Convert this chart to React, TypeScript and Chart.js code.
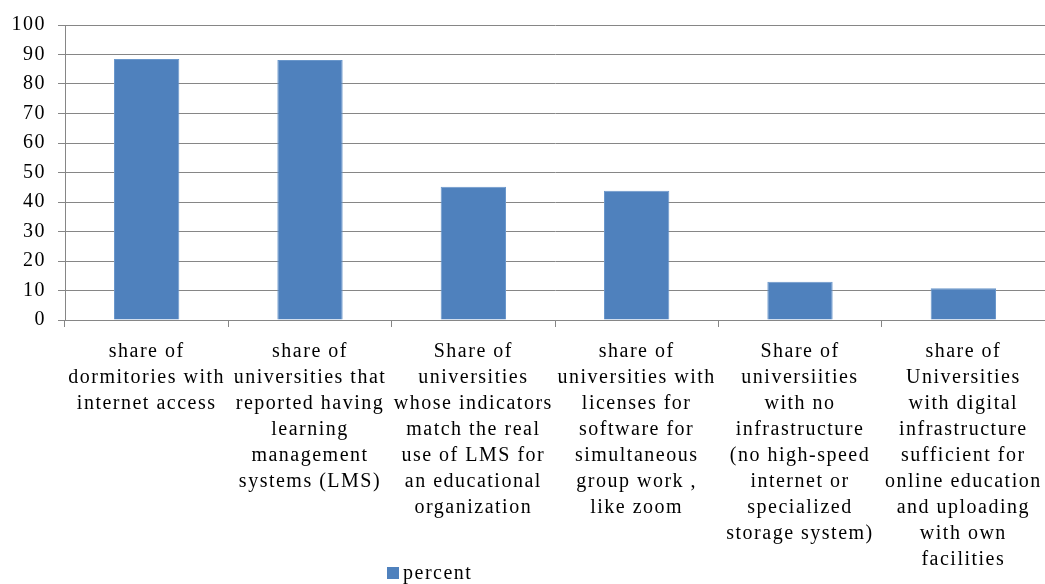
import React, { useEffect, useRef } from "react";
import { Chart, registerables } from "chart.js";

Chart.register(...registerables);

const categories: string[][] = [
  ["share of", "dormitories with", "internet access"],
  ["share of", "universities that", "reported having", "learning", "management", "systems (LMS)"],
  ["Share of", "universities", "whose indicators", "match the real", "use of LMS for", "an educational", "organization"],
  ["share of", "universities with", "licenses for", "software for", "simultaneous", "group work ,", "like zoom"],
  ["Share of", "universiities", "with no", "infrastructure", "(no high-speed", "internet or", "specialized", "storage system)"],
  ["share of", "Universities", "with digital", "infrastructure", "sufficient for", "online education", "and uploading", "with own", "facilities"],
];

const seriesName = "percent";
const percentValues: number[] = [88.5, 88.1, 45.2, 43.8, 13.0, 10.8];

const yMin = 0;
const yMax = 100;
const yStep = 10;

const FONT = '"Liberation Serif", "Times New Roman", serif';
const GRID = "#868686";
const BAR = "#4F81BD";
const SPACING = "1.5px";

const spacingPlugin = {
  id: "letterSpacing",
  beforeLayout(chart: any) {
    (chart.ctx as any).letterSpacing = SPACING;
  },
  beforeDraw(chart: any) {
    (chart.ctx as any).letterSpacing = SPACING;
  },
};

const legendPlugin = {
  id: "bottomLegend",
  afterDraw(chart: any) {
    const ctx = chart.ctx;
    const ds = chart.data.datasets[0];
    ctx.save();
    ctx.fillStyle = ds.backgroundColor;
    ctx.fillRect(387, 567, 12, 12);
    ctx.fillStyle = "#000";
    ctx.font = `20px ${FONT}`;
    ctx.textAlign = "left";
    ctx.textBaseline = "alphabetic";
    ctx.fillText(ds.label, 403, 579);
    ctx.restore();
  },
};

export default function App() {
  const ref = useRef<HTMLCanvasElement | null>(null);
  useEffect(() => {
    if (!ref.current) return;
    const chart = new Chart(ref.current, {
      type: "bar",
      data: {
        labels: categories,
        datasets: [
          {
            label: seriesName,
            data: percentValues,
            backgroundColor: BAR,
            borderColor: "#6A97CB",
            borderWidth: 1,
            barPercentage: 0.4,
            categoryPercentage: 1,
          },
        ],
      },
      plugins: [spacingPlugin, legendPlugin],
      options: {
        responsive: false,
        animation: false,
        devicePixelRatio: 1,
        layout: { padding: { top: 25, right: 0, left: 0, bottom: 0 } },
        plugins: {
          legend: { display: false },
          tooltip: { enabled: false },
        },
        scales: {
          x: {
            offset: true,
            grid: {
              display: true,
              drawOnChartArea: false,
              drawTicks: true,
              tickLength: 7,
              color: GRID,
              offset: true,
            },
            border: { display: true, color: GRID },
            ticks: {
              autoSkip: false,
              maxRotation: 0,
              minRotation: 0,
              padding: 12,
              color: "#000",
              font: { family: FONT, size: 20, lineHeight: 1.3 },
            },
            afterFit: (scale: any) => {
              scale.height = 264;
              scale.paddingLeft = 0;
              scale.paddingRight = 0;
            },
          },
          y: {
            min: yMin,
            max: yMax,
            grid: {
              color: GRID,
              lineWidth: 1,
              drawTicks: true,
              tickLength: 7,
            },
            border: { display: true, color: GRID },
            ticks: {
              stepSize: yStep,
              padding: 12,
              color: "#000",
              font: { family: FONT, size: 20 },
            },
            afterFit: (scale: any) => {
              scale.width = 65;
            },
          },
        },
      },
    });
    return () => chart.destroy();
  }, []);
  return (
    <div style={{ position: "absolute", left: 0, top: 0, width: 1045, height: 584, background: "#fff" }}>
      <canvas ref={ref} width={1045} height={584} style={{ width: 1045, height: 584 }} />
    </div>
  );
}
